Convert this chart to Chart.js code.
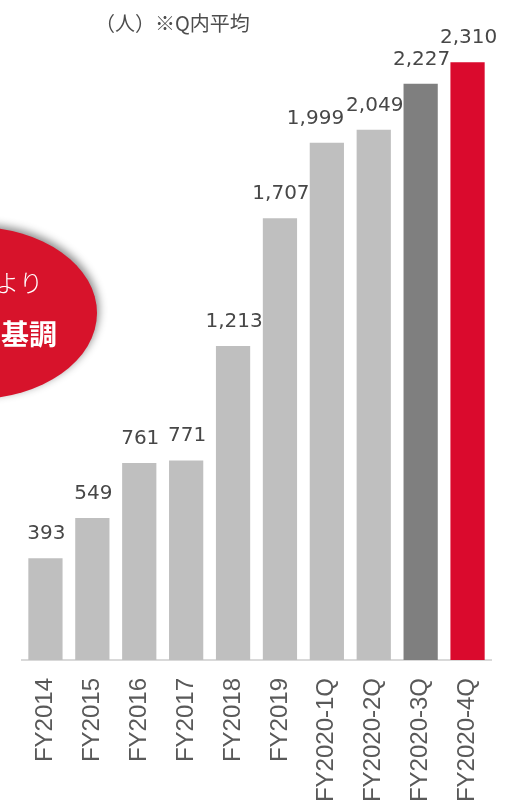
<!DOCTYPE html>
<html lang="ja">
<head>
    <meta charset="UTF-8">
    <title>人数推移</title>
    <script src="https://cdn.jsdelivr.net/npm/chart.js"></script>
    <style>
        body {
            margin: 0;
            background: #ffffff;
        }
        #wrap {
            position: relative;
            width: 516px;
            height: 810px;
        }
        .unit {
            position: absolute;
            left: 95px;
            top: 9px;
            font-family: "Noto Sans CJK JP", sans-serif;
            font-size: 20px;
            line-height: 28px;
            color: #4d4d4d;
        }
    </style>
</head>
<body>
    <div id="wrap">
        <canvas id="staffChart" width="516" height="810"></canvas>
        <div class="unit">（人）※Q内平均</div>
    </div>

    <script>
        const periods = ['FY2014', 'FY2015', 'FY2016', 'FY2017', 'FY2018', 'FY2019',
                         'FY2020-1Q', 'FY2020-2Q', 'FY2020-3Q', 'FY2020-4Q'];
        const headcount = [393, 549, 761, 771, 1213, 1707, 1999, 2049, 2227, 2310];
        const barColors = ['#bfbfbf', '#bfbfbf', '#bfbfbf', '#bfbfbf', '#bfbfbf',
                           '#bfbfbf', '#bfbfbf', '#bfbfbf', '#7f7f7f', '#da0a2d'];
        const bubbleLines = ['より', '基調'];

        // numbers above each bar, nudged left when they would run into the next one
        const valueLabels = {
            id: 'valueLabels',
            afterDatasetsDraw(chart) {
                const ctx = chart.ctx;
                const meta = chart.getDatasetMeta(0);
                ctx.save();
                ctx.font = '20px "DejaVu Sans", Verdana, sans-serif';
                ctx.fillStyle = '#474747';
                ctx.textAlign = 'center';
                ctx.textBaseline = 'alphabetic';
                const items = meta.data.map((bar, i) => {
                    const txt = headcount[i].toLocaleString('en-US');
                    return { txt, x: bar.x + 1, y: bar.y - 19, w: ctx.measureText(txt).width };
                });
                for (let i = items.length - 2; i >= 0; i--) {
                    const a = items[i], b = items[i + 1];
                    const overlap = (a.x + a.w / 2) - (b.x - b.w / 2);
                    if (overlap > 0 && Math.abs(a.y - b.y) < 20) a.x -= overlap + 2;
                }
                items.forEach(it => ctx.fillText(it.txt, it.x, it.y));
                ctx.restore();
            }
        };

        // red callout bubble sticking in from the left edge
        const callout = {
            id: 'callout',
            afterDraw(chart) {
                const ctx = chart.ctx;
                ctx.save();
                ctx.shadowColor = 'rgba(0,0,0,0.45)';
                ctx.shadowBlur = 8;
                ctx.shadowOffsetX = 2;
                ctx.shadowOffsetY = -3;
                ctx.fillStyle = '#d7132b';
                ctx.beginPath();
                ctx.ellipse(-25, 313, 122, 86, 0, 0, Math.PI * 2);
                ctx.fill();
                ctx.restore();

                ctx.save();
                ctx.fillStyle = '#ffffff';
                ctx.textAlign = 'right';
                ctx.textBaseline = 'middle';
                ctx.font = '300 24px "Noto Sans CJK JP", sans-serif';
                ctx.fillText(bubbleLines[0], 43, 283);
                ctx.font = 'bold 28px "Noto Sans CJK JP", sans-serif';
                ctx.fillText(bubbleLines[1], 57, 334);
                ctx.restore();
            }
        };

        new Chart(document.getElementById('staffChart'), {
            type: 'bar',
            data: {
                labels: periods,
                datasets: [{
                    data: headcount,
                    backgroundColor: barColors,
                    borderWidth: 0,
                    barPercentage: 0.73,
                    categoryPercentage: 1
                }]
            },
            options: {
                responsive: false,
                animation: false,
                layout: {
                    padding: { top: 13, left: 22, right: 25, bottom: 0 }
                },
                plugins: {
                    legend: { display: false },
                    tooltip: { enabled: false }
                },
                scales: {
                    x: {
                        grid: { display: false, drawTicks: false },
                        border: { display: true, color: '#d9d9d9', width: 2 },
                        ticks: {
                            color: '#595959',
                            font: { family: '"Liberation Sans", Arial, sans-serif', size: 24 },
                            minRotation: 90,
                            maxRotation: 90,
                            padding: 18
                        },
                        afterFit(scale) {
                            scale.height = 150;
                        }
                    },
                    y: {
                        display: false,
                        min: 0,
                        max: 2500
                    }
                }
            },
            plugins: [valueLabels, callout]
        });
    </script>
</body>
</html>
